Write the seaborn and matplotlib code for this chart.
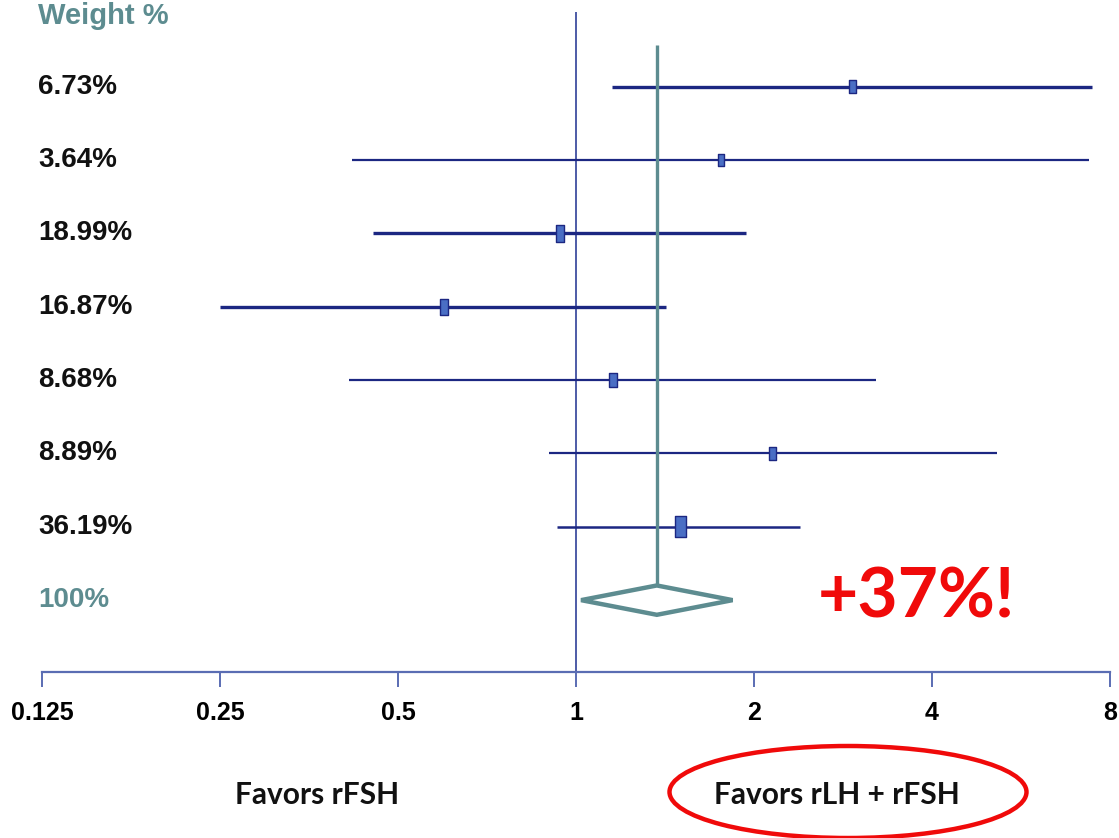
import numpy as np
import pandas as pd
import seaborn as sns
import matplotlib
matplotlib.use("Agg")
import matplotlib.pyplot as plt
from matplotlib.path import Path
from matplotlib.patches import Polygon, Ellipse
from matplotlib.transforms import blended_transform_factory

# ---- study data (odds ratios with 95% CI) ----
weight_labels = ["6.73%", "3.64%", "18.99%", "16.87%", "8.68%", "8.89%", "36.19%"]
weight_pct = [6.73, 3.64, 18.99, 16.87, 8.68, 8.89, 36.19]
odds_ratio = [2.93, 1.76, 0.94, 0.598, 1.155, 2.15, 1.50]
ci_low = [1.15, 0.418, 0.453, 0.25, 0.413, 0.90, 0.93]
ci_high = [7.46, 7.37, 1.94, 1.42, 3.22, 5.15, 2.39]

pooled_or = 1.37
pooled_low = 1.02
pooled_high = 1.84
pooled_label = "100%"

tick_values = [0.125, 0.25, 0.5, 1, 2, 4, 8]
tick_labels = ["0.125", "0.25", "0.5", "1", "2", "4", "8"]

header = "Weight %"
left_label = "Favors rFSH"
right_label = "Favors rLH + rFSH"

# ---- styling ----
sns.set_theme(style="white")
narrow = ["Liberation Sans", "DejaVu Sans"]
plt.rcParams["font.family"] = ["Lato", "DejaVu Sans"]

NAVY = "#1c2782"
BOX = "#4a6ec4"
TEAL = "#5d8c90"
AXIS = "#5a6db3"
REF = "#3f4ea0"
RED = "#f00a0a"
ci_lw = [2.4, 1.6, 2.4, 2.4, 1.6, 1.6, 1.8]

W, H = 1119, 838
fig = plt.figure(figsize=(W / 100, H / 100), dpi=100)
ax = fig.add_axes([42 / W, 1 - 672 / H, (1110 - 42) / W, (672 - 12) / H])

n = len(weight_labels)
rows = np.arange(n)
df = pd.DataFrame({
    "row": rows, "or": odds_ratio, "lo": ci_low, "hi": ci_high, "w": weight_pct,
})

ax.set_xscale("log", base=2)
ax.set_xlim(tick_values[0], tick_values[-1])
ax.set_ylim(n + 1 - 0.02, -1.02)

# null line at OR = 1
ax.axvline(1, color=REF, lw=1.3, zorder=1)

# confidence intervals
for r, lo, hi, lw in zip(df["row"], df["lo"], df["hi"], ci_lw):
    ax.hlines(r, lo, hi, color=NAVY, lw=lw, zorder=2)

# study boxes (tall rectangles sized by weight)
box_path = Path([(-0.27, -0.5), (0.27, -0.5), (0.27, 0.5), (-0.27, 0.5), (-0.27, -0.5)],
                [Path.MOVETO, Path.LINETO, Path.LINETO, Path.LINETO, Path.CLOSEPOLY])
box_h_pt = (11 + 0.27 * df["w"]) * 0.72
sns.scatterplot(data=df.assign(s=box_h_pt ** 2), x="or", y="row", size="s",
                sizes=(box_h_pt.min() ** 2, box_h_pt.max() ** 2), marker=box_path,
                color=BOX, edgecolor=NAVY, linewidth=1.0, legend=False, ax=ax, zorder=4)

# pooled estimate line and diamond
ax.vlines(pooled_or, -0.57, n - 0.2, color=TEAL, lw=2.4, zorder=3)
dh = 0.2
diamond = Polygon([(pooled_low, n), (pooled_or, n - dh), (pooled_high, n), (pooled_or, n + dh)],
                  closed=True, facecolor="white", edgecolor=TEAL, lw=3.2, zorder=5)
ax.add_patch(diamond)

# axis styling
for side in ["top", "right", "left"]:
    ax.spines[side].set_visible(False)
ax.spines["bottom"].set_color(AXIS)
ax.spines["bottom"].set_linewidth(1.6)
ax.set_xlabel("")
ax.set_ylabel("")
ax.set_yticks([])
ax.set_xticks(tick_values)
ax.set_xticklabels(tick_labels)
ax.xaxis.set_minor_locator(matplotlib.ticker.NullLocator())
ax.tick_params(axis="x", direction="out", length=11, width=1.4, color=AXIS, pad=10,
               bottom=True)
for lbl in ax.get_xticklabels():
    lbl.set_fontfamily(narrow)
    lbl.set_fontweight("bold")
    lbl.set_fontsize(18)
    lbl.set_color("black")
ax.grid(False)

# weight column
tr = blended_transform_factory(fig.transFigure, ax.transData)
for r, lab in zip(rows, weight_labels):
    ax.text(38 / W, r, lab, transform=tr, ha="left", va="center",
            family=narrow, weight="bold", fontsize=20, color="#111111")
ax.text(38 / W, n, pooled_label, transform=tr, ha="left", va="center",
        family=narrow, weight="bold", fontsize=20, color=TEAL)
fig.text(38 / W, 1 - 16 / H, header, ha="left", va="center",
         family=narrow, weight="bold", fontsize=21, color=TEAL)

# favour labels
fig.text(317 / W, 1 - 795 / H, left_label, ha="center", va="center",
         weight="bold", fontsize=21.5, color="#111111")
fig.text(837 / W, 1 - 795 / H, right_label, ha="center", va="center",
         weight="bold", fontsize=21.5, color="#111111")
fig.add_artist(Ellipse((848 / W, 1 - 792 / H), 357 / W, 92 / H, transform=fig.transFigure,
                       fill=False, edgecolor=RED, lw=3.2))

# pooled effect annotation
effect = f"+{round((pooled_or - 1) * 100)}%!"
fig.text(916 / W, 1 - 598 / H, effect, ha="center", va="center",
         weight="bold", fontsize=50, color=RED)

fig.savefig("out.png", dpi=100, facecolor="white")
